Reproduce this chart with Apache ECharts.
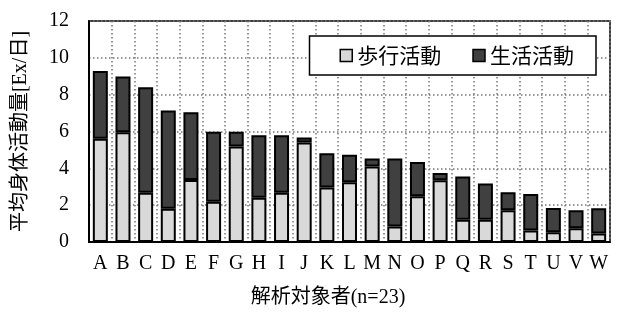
<!DOCTYPE html>
<html>
<head>
<meta charset="utf-8">
<script src="https://cdn.jsdelivr.net/npm/echarts@6/dist/echarts.min.js"></script>
<style>
  html, body { margin: 0; padding: 0; background: #fff; }
  #chart { width: 619px; height: 313px; }
</style>
</head>
<body>
<div id="chart"></div>
<script>
// 対象者
const subjects = ['A','B','C','D','E','F','G','H','I','J','K','L','M','N','O','P','Q','R','S','T','U','V','W'];
// 歩行活動 [Ex/日]
const walking = [5.6, 5.96, 2.68, 1.81, 3.37, 2.18, 5.19, 2.4, 2.68, 5.4, 2.96, 3.25, 4.1, 0.84, 2.49, 3.35, 1.21, 1.21, 1.72, 0.63, 0.53, 0.74, 0.46];
// 生活活動 [Ex/日]
const living = [3.68, 3.02, 5.72, 5.33, 3.67, 3.8, 0.79, 3.39, 3.11, 0.28, 1.86, 1.49, 0.44, 3.7, 1.86, 0.4, 2.35, 1.96, 0.98, 1.97, 1.31, 0.98, 1.37];
const yTicks = [0, 2, 4, 6, 8, 10, 12];

const serif = '"Liberation Serif", "Noto Sans CJK JP", serif';
const gridLine = { show: true, lineStyle: { color: '#777', type: [1.5, 2.5], width: 1.5 } };
const chart = echarts.init(document.getElementById('chart'));
chart.setOption({
  animation: false,
  grid: {
    left: 89, right: 9, top: 21, bottom: 64,
    show: true, borderColor: '#000', borderWidth: 1.5
  },
  legend: {
    data: ['歩行活動', '生活活動'],
    right: 23, top: 36,
    orient: 'horizontal',
    backgroundColor: '#fff',
    borderColor: '#000',
    borderWidth: 1.5,
    padding: [9, 22, 9, 30],
    itemGap: 31,
    itemWidth: 12, itemHeight: 12,
    icon: 'rect',
    itemStyle: { borderColor: '#000', borderWidth: 1.5 },
    textStyle: { fontFamily: '"Noto Sans CJK JP", sans-serif', fontSize: 21, color: '#000' }
  },
  xAxis: {
    type: 'category',
    data: subjects,
    name: '解析対象者(n=23)',
    nameLocation: 'middle',
    nameGap: 46,
    nameTextStyle: { fontFamily: serif, fontSize: 20, color: '#000', padding: [0, 43, 0, 0] },
    axisLine: { lineStyle: { color: '#000', width: 2 } },
    axisTick: { show: false },
    axisLabel: { fontFamily: serif, fontSize: 20, color: '#000', margin: 12, interval: 0 },
    splitLine: gridLine
  },
  yAxis: {
    type: 'value',
    min: 0, max: 12, interval: 2,
    name: '平均身体活動量[Ex/日]',
    nameLocation: 'middle',
    nameGap: 58,
    nameTextStyle: { fontFamily: serif, fontSize: 20, color: '#000' },
    axisLine: { show: true, lineStyle: { color: '#000', width: 2 } },
    axisTick: { show: false },
    axisLabel: {
      fontFamily: serif, fontSize: 20, color: '#000', margin: 20,
      formatter: v => yTicks.includes(v) ? String(v) : ''
    },
    splitLine: gridLine
  },
  series: [
    {
      name: '歩行活動',
      type: 'bar',
      stack: 'total',
      barWidth: 15,
      data: walking,
      itemStyle: { color: '#d9d9d9', borderColor: '#000', borderWidth: 2 }
    },
    {
      name: '生活活動',
      type: 'bar',
      stack: 'total',
      barWidth: 15,
      data: living,
      itemStyle: { color: '#404040', borderColor: '#000', borderWidth: 2 }
    }
  ]
});
</script>
</body>
</html>
